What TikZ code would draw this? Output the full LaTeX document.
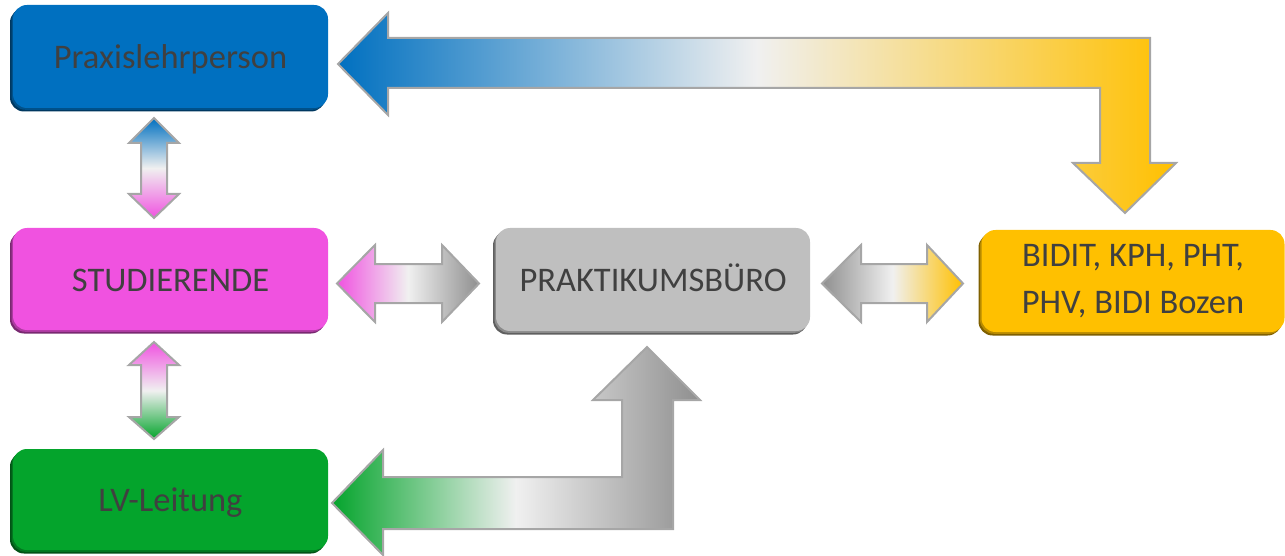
\documentclass[tikz,border=0pt]{standalone}
\usepackage{fontspec}
\setmainfont{Carlito}
\usetikzlibrary{shadows}
\definecolor{cblue}{HTML}{0070C0}
\definecolor{cpink}{HTML}{F052E0}
\definecolor{cgreen}{HTML}{04A42C}
\definecolor{cgray}{HTML}{BFBFBF}
\definecolor{cyellow}{HTML}{FFC000}
\definecolor{ctext}{HTML}{404040}
\definecolor{cline}{HTML}{A6A6A6}
\definecolor{cwhite}{HTML}{F0F0F0}
\definecolor{cdgray}{HTML}{8F8F8F}
\begin{document}
\begin{tikzpicture}[x=1pt,y=-1pt,
  boxnode/.style={draw=none, fill=#1, rounded corners=14pt, inner sep=0pt,
    text=ctext, font=\fontsize{34.5}{42}\selectfont, align=center,
    general shadow={fill=#1!50!black, shadow xshift=-3pt, shadow yshift=-3.5pt},
    general shadow={fill=#1!72!black, shadow xshift=-1.5pt, shadow yshift=-1.8pt}},
  oneline/.style={text height=26pt, text depth=2pt},
  blockarrow/.style={draw=cline, line width=2pt, line join=miter}]
\useasboundingbox (0,0) rectangle (1285,556);

% boxes
\node[boxnode=cblue, oneline, minimum width=315pt, minimum height=103pt] (prax) at (170.5,56.5) {Praxislehrperson};
\node[boxnode=cpink, oneline, minimum width=315pt, minimum height=102pt] (stud) at (170.5,279) {STUDIERENDE};
\node[boxnode=cgreen, oneline, minimum width=315pt, minimum height=101pt] (lv) at (170.5,499.5) {LV-Leitung};
\node[boxnode=cgray, oneline, minimum width=314pt, minimum height=103pt] (buero) at (653,279.5) {PRAKTIKUMSBÜRO};
\node[boxnode=cyellow, minimum width=303pt, minimum height=102pt] (bidi) at (1133,281) {BIDIT, KPH, PHT,\\[5pt]PHV, BIDI Bozen};

% top bent arrow: BIDI -> Praxislehrperson
\path[blockarrow, left color=cblue, right color=cyellow, middle color=cwhite]
  (338,64) -- (388,13) -- (388,38) -- (1150,38) -- (1150,163) -- (1176,163)
  -- (1125,213) -- (1073,163) -- (1100,163) -- (1100,88) -- (388,88) -- (388,115) -- cycle;

% bottom bent arrow: Praktikumsbuero <-> LV-Leitung
\path[blockarrow, left color=cgreen, right color=cdgray, middle color=cwhite]
  (332,503) -- (383,450) -- (383,477) -- (622,477) -- (622,400) -- (593,400)
  -- (647,347) -- (700,400) -- (673,400) -- (673,529) -- (383,529) -- (383,555) -- cycle;

% Studierende <-> Praktikumsbuero
\path[blockarrow, left color=cpink, right color=cdgray, middle color=cwhite]
  (337,283.5) -- (375,245) -- (375,264) -- (442,264) -- (442,245) -- (479,283.5)
  -- (442,322) -- (442,303) -- (375,303) -- (375,322) -- cycle;

% Praktikumsbuero <-> BIDI
\path[blockarrow, left color=cdgray, right color=cyellow, middle color=cwhite]
  (822,283.5) -- (861,245) -- (861,264) -- (927,264) -- (927,245) -- (963,283.5)
  -- (927,322) -- (927,303) -- (861,303) -- (861,322) -- cycle;

% Praxislehrperson <-> Studierende
\path[blockarrow, top color=cblue, bottom color=cpink, middle color=cwhite]
  (154,118) -- (179,143) -- (167,143) -- (167,194) -- (179,194) -- (154,218)
  -- (129,194) -- (141,194) -- (141,143) -- (129,143) -- cycle;

% Studierende <-> LV-Leitung
\path[blockarrow, top color=cpink, bottom color=cgreen, middle color=cwhite]
  (154,342) -- (179,365) -- (167,365) -- (167,417) -- (179,417) -- (154,439)
  -- (129,417) -- (141,417) -- (141,365) -- (129,365) -- cycle;
\end{tikzpicture}
\end{document}
